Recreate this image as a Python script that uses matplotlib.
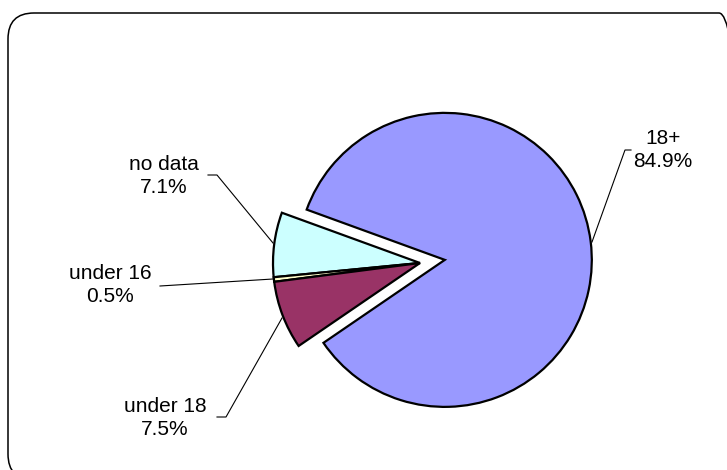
import matplotlib
matplotlib.use("Agg")
import matplotlib.pyplot as plt
from matplotlib.patches import FancyBboxPatch

# Data
categories = ["no data", "under 16", "under 18", "18+"]
shares = [7.1, 0.5, 7.5, 84.9]
colors = ["#CCFFFF", "#FFFFCC", "#993366", "#9999FF"]

W, H = 727, 470
R = 147
explode = [0, 0, 0, 25]  # offset of the exploded wedge in pixels

fig = plt.figure(figsize=(W / 100, H / 100), dpi=100)
ax = fig.add_axes([0, 0, 1, 1])

def Y(y):
    return H - y

ax.pie(shares, colors=colors, explode=explode, startangle=160,
       counterclock=True, center=(420, Y(263)), radius=R,
       wedgeprops=dict(edgecolor="black", linewidth=1.6))
ax.set_xlim(0, W)
ax.set_ylim(0, H)
ax.set_aspect("equal")
ax.axis("off")

# Rounded chart-area border (clipped at right/bottom like the original)
border = FancyBboxPatch((8, Y(480)), 737, 467,
                        boxstyle="round,pad=0,rounding_size=26",
                        fc="none", ec="black", lw=1.1, clip_on=True)
ax.add_patch(border)

# Labels
font = dict(family=["Liberation Sans", "DejaVu Sans"], size=15)
label_pos = {"18+": (663, 150), "no data": (164, 176),
             "under 16": (110, 285), "under 18": (165, 418)}
leaders = {"18+": [(592, 242), (625, 150), (631, 150)],
           "no data": [(208, 175), (217, 175), (273, 243)],
           "under 16": [(160, 286), (273, 279)],
           "under 18": [(217, 417), (226, 417), (282, 318)]}
for cat, val in zip(categories, shares):
    x, y = label_pos[cat]
    ax.text(x, Y(y), f"{cat}\n{val:.1f}%", ha="center", va="center",
            multialignment="center", linespacing=1.3, color="black", **font)
    pts = leaders[cat]
    ax.plot([p[0] for p in pts], [Y(p[1]) for p in pts], color="black", lw=0.8)

fig.savefig("out.png", dpi=100, facecolor="white")
